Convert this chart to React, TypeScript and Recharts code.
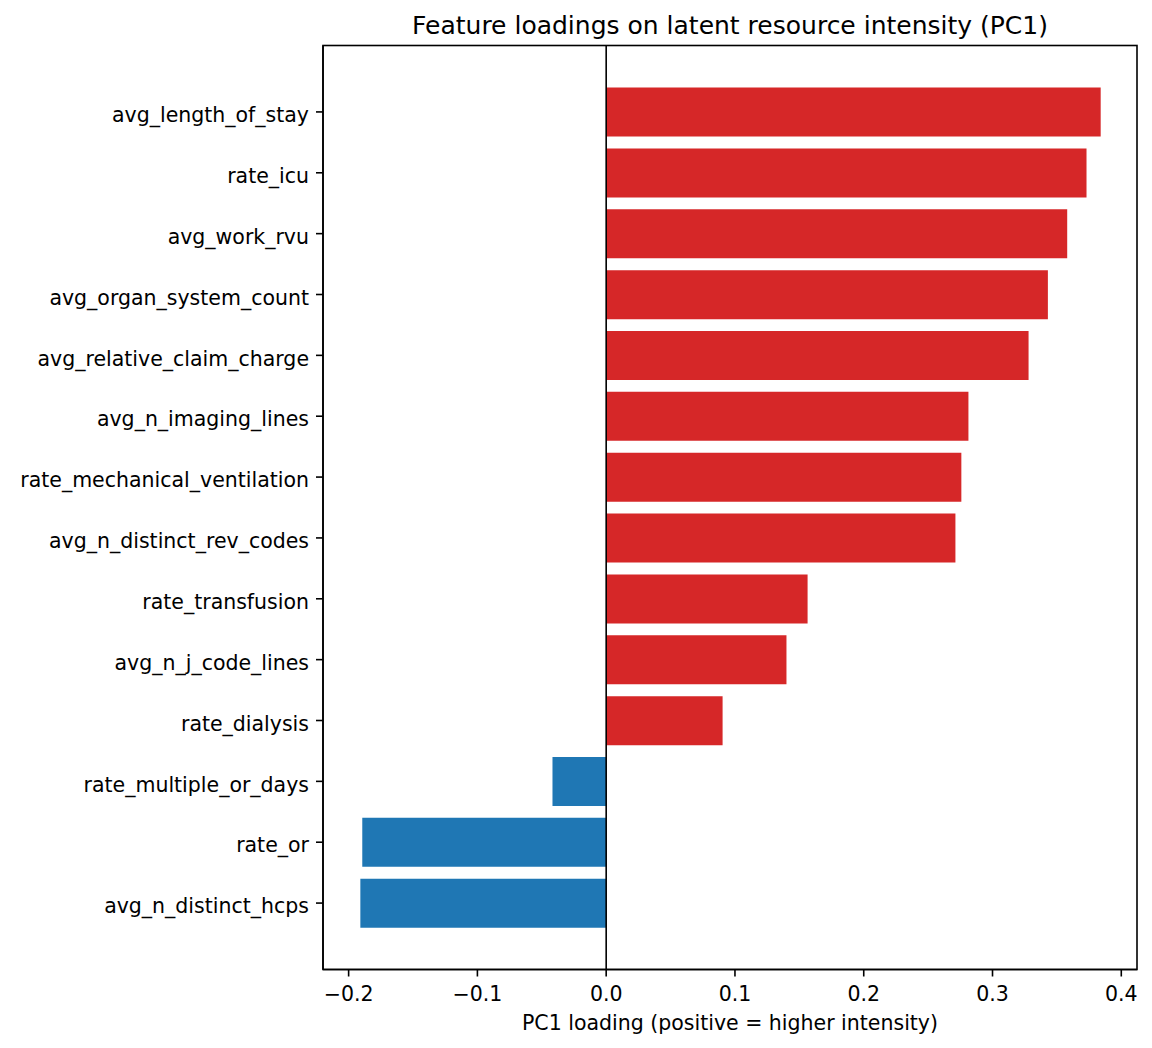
import React from 'react';
import * as R from 'recharts';
import { BarChart, Bar, XAxis, YAxis, Cell, ReferenceLine, Label } from 'recharts';

// PC1 loadings, top to bottom as drawn
const features = [
  'avg_length_of_stay',
  'rate_icu',
  'avg_work_rvu',
  'avg_organ_system_count',
  'avg_relative_claim_charge',
  'avg_n_imaging_lines',
  'rate_mechanical_ventilation',
  'avg_n_distinct_rev_codes',
  'rate_transfusion',
  'avg_n_j_code_lines',
  'rate_dialysis',
  'rate_multiple_or_days',
  'rate_or',
  'avg_n_distinct_hcps',
];
const loadings = [
  0.384, 0.373, 0.358, 0.343, 0.328, 0.2813, 0.2758, 0.2712, 0.1564, 0.14, 0.0904, -0.0417, -0.1894,
  -0.1909,
];
const xTicks = [-0.2, -0.1, 0, 0.1, 0.2, 0.3, 0.4];
const xDomain = [-0.2199, 0.4122];

const TITLE = 'Feature loadings on latent resource intensity (PC1)';
const XLABEL = 'PC1 loading (positive = higher intensity)';

const POS = '#d62728';
const NEG = '#1f77b4';
const FONT = 'DejaVu Sans';

const W = 1152;
const H = 1048;
const M = { top: 45.5, right: 15, bottom: 0, left: 0 };
const Y_W = 323;
const X_H = 78.5;

const rows = features.map((name, i) => ({ name, loading: loadings[i] }));

const fmt = (v: number) => (v < 0 ? '\u2212' : '') + Math.abs(v).toFixed(1);

const line = { stroke: '#000', strokeWidth: 1.6 };
const tickStyle = { fill: '#000', fontSize: 20.5, fontFamily: FONT };

// plot box: from the hook when recharts has it, else from the margins
const fallbackArea = () => ({
  x: M.left + Y_W,
  y: M.top,
  width: W - M.left - M.right - Y_W,
  height: H - M.top - M.bottom - X_H,
});
const usePlot: () => any = (R as any).usePlotArea ?? fallbackArea;

function Frame() {
  const a = usePlot() ?? fallbackArea();
  return (
    <g>
      <rect x={a.x} y={a.y} width={a.width} height={a.height} fill="none" stroke="#000" strokeWidth={1.6} />
      <text
        x={a.x + a.width / 2}
        y={a.y - 11.5}
        textAnchor="middle"
        fill="#000"
        fontSize={25}
        fontFamily={FONT}
      >
        {TITLE}
      </text>
    </g>
  );
}

export default function App() {
  return (
    <div style={{ position: 'absolute', left: 0, top: 0, width: W, height: H, background: '#fff' }}>
      <BarChart width={W} height={H} data={rows} layout="vertical" margin={M} barCategoryGap="10%">
        <XAxis
          type="number"
          dataKey="loading"
          domain={xDomain}
          allowDataOverflow
          ticks={xTicks}
          interval={0}
          tickFormatter={fmt}
          height={X_H}
          tickSize={7}
          tickMargin={10}
          axisLine={line}
          tickLine={line}
          tick={tickStyle}
        >
          <Label
            value={XLABEL}
            position="insideBottom"
            offset={18.5}
            style={{ fill: '#000', fontSize: 20.5, fontFamily: FONT }}
          />
        </XAxis>
        <YAxis
          type="category"
          dataKey="name"
          width={Y_W}
          interval={0}
          padding={{ top: 36, bottom: 36 }}
          tickSize={7}
          tickMargin={7}
          axisLine={line}
          tickLine={line}
          tick={{ ...tickStyle, dy: 3 }}
        />
        <Bar dataKey="loading" isAnimationActive={false}>
          {rows.map((r) => (
            <Cell key={r.name} fill={r.loading >= 0 ? POS : NEG} />
          ))}
        </Bar>
        <ReferenceLine x={0} stroke="#000" strokeWidth={1.6} />
        <Frame />
      </BarChart>
    </div>
  );
}
